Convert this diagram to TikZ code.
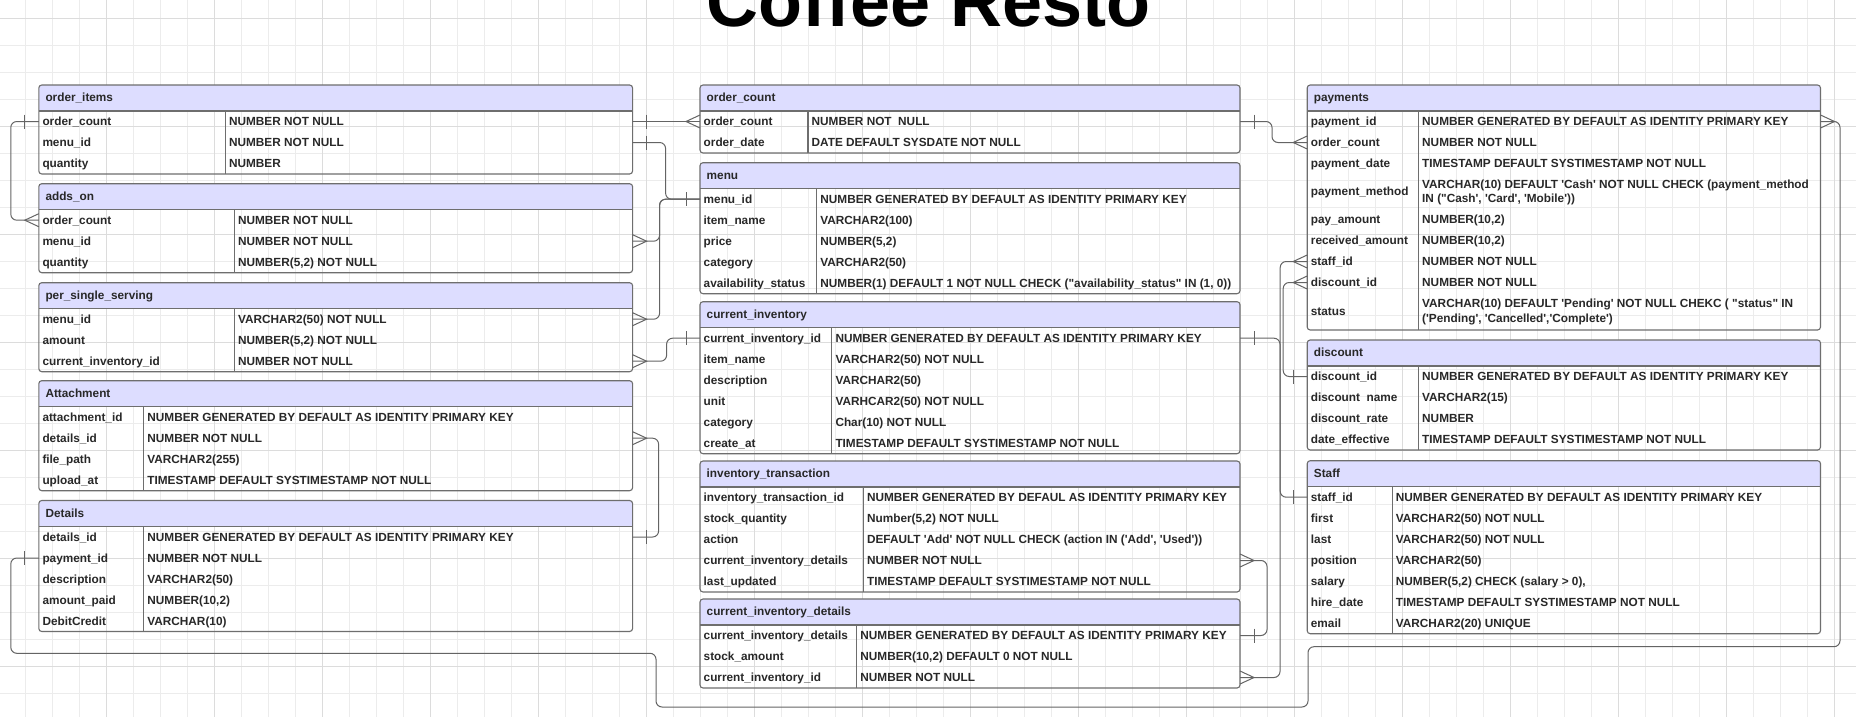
\documentclass[tikz,border=0pt]{standalone}
\usepackage{fontspec}
\setmainfont{Liberation Sans}[Ligatures=TeXOff]

\definecolor{hdrblue}{RGB}{221,221,255}
\definecolor{boxgray}{RGB}{110,110,110}
\definecolor{linkgray}{RGB}{100,100,100}
\definecolor{inkgray}{RGB}{40,40,40}
\definecolor{gridlight}{RGB}{236,236,236}
\definecolor{griddark}{RGB}{220,220,220}

\newcommand{\fieldfont}{\fontsize{11.8}{14.2}\selectfont\bfseries}

\tikzset{
  tblline/.style={draw=boxgray, line width=1.1pt},
  hdrtext/.style={anchor=base west, inner sep=0pt, font=\fieldfont, text=inkgray},
  fldtext/.style={anchor=base west, inner sep=0pt, align=left, font=\fieldfont, text=inkgray},
  rowslot/.style={anchor=west, inner sep=0pt, outer sep=0pt, minimum height=21pt},
  titletext/.style={anchor=base, inner sep=0pt, font=\fontsize{72}{72}\selectfont\bfseries},
  conn/.style={draw=linkgray, line width=1pt, rounded corners=6pt},
  erend/.style={draw=linkgray, line width=1pt},
  gridminor/.style={draw=gridlight, line width=0.8pt},
  gridmajor/.style={draw=griddark, line width=0.8pt},
}

% tabla: nombre, x, y arriba, ancho, alto, columna, titulo
\newcommand{\ertable}[7]{%
  \begin{scope}
    \clip[rounded corners=3pt] (#2,#3) rectangle ++(#4,#5);
    \fill[hdrblue] (#2,#3) rectangle ++(#4,26);
  \end{scope}
  \draw[tblline] (#2,#3+26) -- ++(#4,0);
  \draw[tblline] (#2+#6,#3+26) -- (#2+#6,#3+#5);
  \draw[tblline, rounded corners=3pt] (#2,#3) rectangle ++(#4,#5);
  \node[hdrtext] (#1) at (#2+6.5,#3+16.5) {#7};
}
% filas: nombre, x, y arriba, ancho, columna, lista
\newcommand{\erfields}[6]{%
  \foreach \nm/\val [count=\i] in {#6} {
    \node[rowslot, minimum width=#4] (#1-\i) at (#2,#3+15.5+21*\i) {};
    \node[fldtext] at (#2+3.5,#3+19.8+21*\i) {\nm};
    \node[fldtext] at (#2+#5+3.5,#3+19.8+21*\i) {\val};
  }%
}
% marca "uno" y pata de gallo "muchos"
\newcommand{\erone}[2]{\draw[erend] ([xshift=#2*14pt]#1) ++(0,-7) -- ++(0,14);}
\newcommand{\ermany}[2]{\draw[erend] ([yshift=6.5pt]#1) -- ([xshift=#2*14pt]#1) -- ([yshift=-6.5pt]#1);}

\begin{document}
\begin{tikzpicture}[x=1pt, y=-1pt]
  \useasboundingbox (0,0) rectangle (1856,717);
  \clip (0,0) rectangle (1856,717);
  \fill[white] (0,0) rectangle (1856,717);

  %——————————————————————————————————————————————
  % Cuadricula de fondo
  %——————————————————————————————————————————————
  \foreach \gx in {-1.7,25.3,...,1860} \draw[gridminor] (\gx,0) -- (\gx,717);
  \foreach \gy in {18.3,45.3,...,720} \draw[gridminor] (0,\gy) -- (1856,\gy);
  \foreach \gx in {-1.7,106.3,...,1860} \draw[gridmajor] (\gx,0) -- (\gx,717);
  \foreach \gy in {18.3,126.3,...,720} \draw[gridmajor] (0,\gy) -- (1856,\gy);

  % Titulo
  \node[titletext] (title) at (928.5,26.7) {Coffee Resto};

  %——————————————————————————————————————————————
  % Columna izquierda
  %——————————————————————————————————————————————
  \ertable{oi}{38.8}{85}{593.8}{89}{186.6}{order\_items}
  \erfields{oi}{38.8}{85}{593.8}{186.6}{order\_count/NUMBER NOT NULL,
    menu\_id/NUMBER NOT NULL, quantity/NUMBER}

  \ertable{ao}{38.8}{183.7}{593.8}{89}{195.6}{adds\_on}
  \erfields{ao}{38.8}{183.7}{593.8}{195.6}{order\_count/NUMBER NOT NULL,
    menu\_id/NUMBER NOT NULL, quantity/{NUMBER(5,2) NOT NULL}}

  \ertable{ps}{38.8}{282.7}{593.8}{89}{195.6}{per\_single\_serving}
  \erfields{ps}{38.8}{282.7}{593.8}{195.6}{menu\_id/VARCHAR2(50) NOT NULL,
    amount/{NUMBER(5,2) NOT NULL}, current\_inventory\_id/NUMBER NOT NULL}

  \ertable{at}{38.8}{380.7}{593.8}{110}{104.9}{Attachment}
  \erfields{at}{38.8}{380.7}{593.8}{104.9}{attachment\_id/NUMBER GENERATED BY DEFAULT AS IDENTITY PRIMARY KEY,
    details\_id/NUMBER NOT NULL, file\_path/VARCHAR2(255),
    upload\_at/TIMESTAMP DEFAULT SYSTIMESTAMP NOT NULL}

  \ertable{de}{38.8}{500.5}{593.8}{131}{104.9}{Details}
  \erfields{de}{38.8}{500.5}{593.8}{104.9}{details\_id/NUMBER GENERATED BY DEFAULT AS IDENTITY PRIMARY KEY,
    payment\_id/NUMBER NOT NULL, description/VARCHAR2(50),
    amount\_paid/{NUMBER(10,2)}, DebitCredit/VARCHAR(10)}

  %——————————————————————————————————————————————
  % Columna central
  %——————————————————————————————————————————————
  \ertable{oc}{700}{85}{540}{68}{108}{order\_count}
  \erfields{oc}{700}{85}{540}{108}{order\_count/NUMBER NOT\ \ NULL,
    order\_date/DATE DEFAULT SYSDATE NOT NULL}

  \ertable{me}{700}{162.7}{540}{131}{116.7}{menu}
  \erfields{me}{700}{162.7}{540}{116.7}{menu\_id/NUMBER GENERATED BY DEFAULT AS IDENTITY PRIMARY KEY,
    item\_name/VARCHAR2(100), price/{NUMBER(5,2)}, category/VARCHAR2(50),
    availability\_status/{NUMBER(1) DEFAULT 1 NOT NULL CHECK ("availability\_status" IN (1, 0))}}

  \ertable{ci}{700}{301.7}{540}{152}{131.8}{current\_inventory}
  \erfields{ci}{700}{301.7}{540}{131.8}{current\_inventory\_id/NUMBER GENERATED BY DEFAULT AS IDENTITY PRIMARY KEY,
    item\_name/VARCHAR2(50) NOT NULL, description/VARCHAR2(50),
    unit/VARHCAR2(50) NOT NULL, category/Char(10) NOT NULL,
    create\_at/TIMESTAMP DEFAULT SYSTIMESTAMP NOT NULL}

  \ertable{it}{700}{461}{540}{131}{163.4}{inventory\_transaction}
  \erfields{it}{700}{461}{540}{163.4}{inventory\_transaction\_id/NUMBER GENERATED BY DEFAUL AS IDENTITY PRIMARY KEY,
    stock\_quantity/{Number(5,2) NOT NULL},
    action/{DEFAULT 'Add' NOT NULL CHECK (action IN ('Add', 'Used'))},
    current\_inventory\_details/NUMBER NOT NULL,
    last\_updated/TIMESTAMP DEFAULT SYSTIMESTAMP NOT NULL}

  \ertable{cid}{700}{599}{540}{89}{156.7}{current\_inventory\_details}
  \erfields{cid}{700}{599}{540}{156.7}{current\_inventory\_details/NUMBER GENERATED BY DEFAULT AS IDENTITY PRIMARY KEY,
    stock\_amount/{NUMBER(10,2) DEFAULT 0 NOT NULL},
    current\_inventory\_id/NUMBER NOT NULL}

  %——————————————————————————————————————————————
  % Columna derecha
  %——————————————————————————————————————————————
  \ertable{pa}{1307.2}{85}{513.3}{245}{111.3}{payments}
  \foreach \nm/\val/\yc/\vb [count=\i] in {
    payment\_id/NUMBER GENERATED BY DEFAULT AS IDENTITY PRIMARY KEY/121.5/125.8,
    order\_count/NUMBER NOT NULL/142.5/146.8,
    payment\_date/TIMESTAMP DEFAULT SYSTIMESTAMP NOT NULL/163.5/167.8,
    payment\_method/{VARCHAR(10) DEFAULT 'Cash' NOT NULL CHECK (payment\_method\\IN ("Cash', 'Card', 'Mobile'))}/191.5/202.6,
    pay\_amount/{NUMBER(10,2)}/219.5/223.8,
    received\_amount/{NUMBER(10,2)}/240.5/244.8,
    staff\_id/NUMBER NOT NULL/261.5/265.8,
    discount\_id/NUMBER NOT NULL/282.5/286.8,
    status/{VARCHAR(10) DEFAULT 'Pending' NOT NULL CHEKC ( "status" IN\\('Pending', 'Cancelled','Complete')}/311.5/322.0} {
    \node[rowslot, minimum width=513.3] (pa-\i) at (1307.2,\yc) {};
    \node[fldtext] at (1310.7,\yc+4.3) {\nm};
    \node[fldtext] at (1422,\vb) {\val};
  }

  \ertable{di}{1307.2}{340}{513.3}{110}{111.3}{discount}
  \erfields{di}{1307.2}{340}{513.3}{111.3}{discount\_id/NUMBER GENERATED BY DEFAULT AS IDENTITY PRIMARY KEY,
    discount\ \ name/VARCHAR2(15), discount\_rate/NUMBER,
    date\_effective/TIMESTAMP DEFAULT SYSTIMESTAMP NOT NULL}

  \ertable{st}{1307.2}{460.7}{513.3}{173}{85}{Staff}
  \erfields{st}{1307.2}{460.7}{513.3}{85}{staff\_id/NUMBER GENERATED BY DEFAULT AS IDENTITY PRIMARY KEY,
    first/VARCHAR2(50) NOT NULL, last/VARCHAR2(50) NOT NULL,
    position/VARCHAR2(50), salary/{NUMBER(5,2) CHECK (salary > 0),},
    hire\_date/TIMESTAMP DEFAULT SYSTIMESTAMP NOT NULL,
    email/VARCHAR2(20) UNIQUE}

  %——————————————————————————————————————————————
  % Relaciones
  %——————————————————————————————————————————————
  % order_items -> order_count
  \draw[conn] (oi-1.east) -- (oc-1.west);
  \erone{oi-1.east}{1} \ermany{oc-1.west}{-1}
  % order_items -> menu
  \draw[conn] (oi-2.east) -- ++(33,0) |- (me-1.west);
  \erone{oi-2.east}{1} \erone{me-1.west}{-1}
  % adds_on, per_single_serving -> menu
  \draw[conn] (ao-2.east) -- ++(27,0) |- (me-1.west);
  \ermany{ao-2.east}{1}
  \draw[conn] (ps-1.east) -- ++(27,0) |- (me-1.west);
  \ermany{ps-1.east}{1}
  % per_single_serving -> current_inventory
  \draw[conn] (ps-3.east) -- ++(34,0) |- (ci-1.west);
  \ermany{ps-3.east}{1} \erone{ci-1.west}{-1}
  % Attachment -> Details
  \draw[conn] (at-2.east) -- ++(26,0) |- (de-1.east);
  \ermany{at-2.east}{1} \erone{de-1.east}{1}
  % order_items -> adds_on
  \draw[conn] (oi-1.west) -- ++(-28,0) |- (ao-1.west);
  \erone{oi-1.west}{-1} \ermany{ao-1.west}{-1}
  % Details -> payments
  \draw[conn] (de-2.west) -- ++(-28,0) |- (656,653.3) |- (1308,707) |- (1840,646.7) |- (pa-1.east);
  \erone{de-2.west}{-1} \ermany{pa-1.east}{1}
  % order_count -> payments
  \draw[conn] (oc-1.east) -- ++(32,0) |- (pa-2.west);
  \erone{oc-1.east}{1} \ermany{pa-2.west}{-1}
  % current_inventory -> current_inventory_details
  \draw[conn] (ci-1.east) -- ++(40,0) |- (cid-3.east);
  \erone{ci-1.east}{1} \ermany{cid-3.east}{1}
  % inventory_transaction -> current_inventory_details
  \draw[conn] (it-4.east) -- ++(27,0) |- (cid-1.east);
  \ermany{it-4.east}{1} \erone{cid-1.east}{1}
  % payments -> Staff, discount
  \draw[conn] (pa-7.west) -- ++(-27,0) |- (st-1.west);
  \ermany{pa-7.west}{-1} \erone{st-1.west}{-1}
  \draw[conn] (pa-8.west) -- ++(-24,0) |- (di-1.west);
  \ermany{pa-8.west}{-1} \erone{di-1.west}{-1}
\end{tikzpicture}
\end{document}
